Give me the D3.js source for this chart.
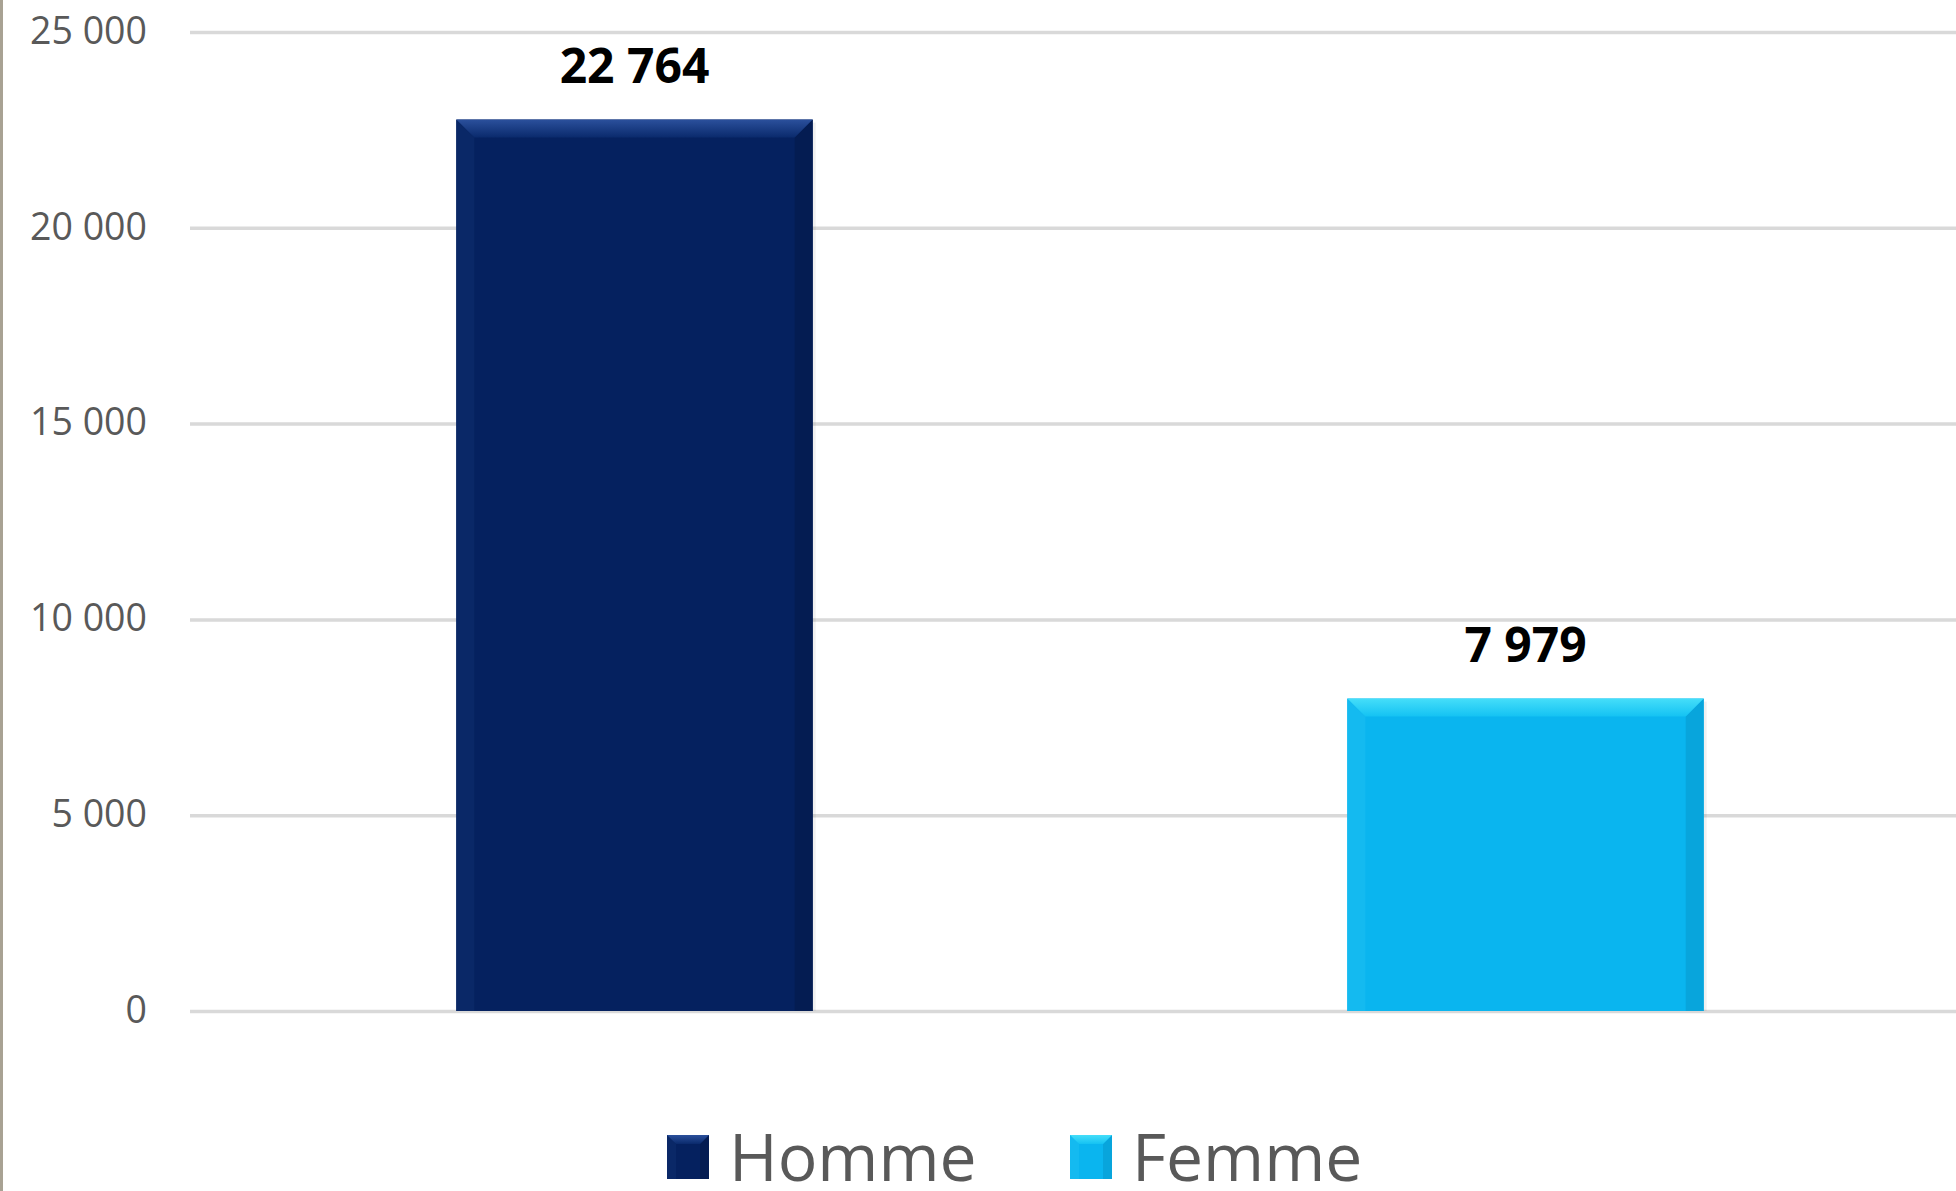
<!DOCTYPE html>
<html>
<head>
<meta charset="utf-8">
<script src="https://cdn.jsdelivr.net/npm/d3@7"></script>
<style>
  html, body { margin: 0; padding: 0; background: #fff; }
  svg { display: block; }
</style>
</head>
<body>
<div id="chart"></div>
<script>
const categories = ["Homme", "Femme"];
const values = [22764, 7979];
const yTicks = [0, 5000, 10000, 15000, 20000, 25000];
const legendLabels = ["Homme", "Femme"];

const colors = {
  Homme: {base: "#05215f", top: "#2b509c", topEnd: "#0a2a6c", left: "#0a2867", right: "#041c52"},
  Femme: {base: "#0ab5ef", top: "#45def9", topEnd: "#14c2f3", left: "#14baf0", right: "#08a5dc"}
};

let width = 1956;
let height = 1191;
let margin = ({top: 32, right: 0, bottom: 180, left: 190});

const fr = d3.formatLocale({decimal: ",", thousands: " ", grouping: [3], currency: ["", " €"]});
const fmt = fr.format(",d");

let x = d3.scaleBand()
    .domain(categories)
    .range([189, 1971])
    .paddingInner(0.6)
    .paddingOuter(0.3);

let y = d3.scaleLinear()
    .domain([0, 25000])
    .range([height - margin.bottom, margin.top]);

const svg = d3.select("#chart").append("svg")
    .attr("width", width)
    .attr("height", height)
    .attr("viewBox", [0, 0, width, height]);

// left border strip of the original screenshot
svg.append("rect").attr("x", 0).attr("y", 0).attr("width", 3).attr("height", height).attr("fill", "#a8a293");

const defs = svg.append("defs");
categories.forEach(c => {
  const g = defs.append("linearGradient").attr("id", "top-" + c)
      .attr("x1", 0).attr("y1", 0).attr("x2", 0).attr("y2", 1);
  g.append("stop").attr("offset", "0%").attr("stop-color", colors[c].top);
  g.append("stop").attr("offset", "100%").attr("stop-color", colors[c].topEnd);
});

// y axis with gridlines
svg.append("g")
    .attr("class", "y-axis")
    .attr("transform", `translate(${margin.left},0)`)
    .call(d3.axisLeft(y).tickValues(yTicks).tickFormat(fmt)
        .tickSize(-(width - margin.left)).tickPadding(43))
    .call(g => g.select(".domain").remove())
    .call(g => g.selectAll(".tick line").attr("stroke", "#d9d9d9").attr("stroke-width", 3.5))
    .call(g => g.selectAll(".tick text")
        .attr("fill", "#595959")
        .attr("font-family", "'Open Sans', sans-serif")
        .attr("font-size", 37.5)
        .attr("dy", "0.3em"));

const data = categories.map((c, i) => ({cat: c, value: values[i]}));

function bevel(g, x0, y0, x1, y1, b, col, topId) {
  g.append("rect").attr("x", x0).attr("y", y0).attr("width", x1 - x0).attr("height", y1 - y0).attr("fill", col.base);
  g.append("polygon")
      .attr("points", [[x0, y0], [x0 + b, y0 + b], [x0 + b, y1], [x0, y1]].join(" "))
      .attr("fill", col.left);
  g.append("polygon")
      .attr("points", [[x1, y0], [x1 - b, y0 + b], [x1 - b, y1], [x1, y1]].join(" "))
      .attr("fill", col.right);
  g.append("polygon")
      .attr("points", [[x0, y0], [x1, y0], [x1 - b, y0 + b], [x0 + b, y0 + b]].join(" "))
      .attr("fill", `url(#${topId})`);
}

const bars = svg.append("g").attr("class", "bars");
data.forEach(d => {
  const g = bars.append("g");
  const x0 = x(d.cat), x1 = x(d.cat) + x.bandwidth();
  // soft shadow
  g.append("rect").attr("x", x0 + 3).attr("y", y(d.value) + 3).attr("width", x.bandwidth())
      .attr("height", y(0) - y(d.value) - 3).attr("fill", "#000").attr("opacity", 0.06);
  bevel(g, x0, y(d.value), x1, y(0), 18, colors[d.cat], "top-" + d.cat);
});

svg.append("g")
    .attr("class", "labels")
  .selectAll("text")
  .data(data)
  .join("text")
    .attr("x", d => x(d.cat) + x.bandwidth() / 2)
    .attr("y", d => y(d.value) - 37)
    .attr("text-anchor", "middle")
    .attr("font-family", "'Open Sans', sans-serif")
    .attr("font-weight", 700)
    .attr("font-size", 48)
    .attr("fill", "#000")
    .text(d => fmt(d.value));

// legend
const legendX = [667, 1070];
const legend = svg.append("g").attr("class", "legend");
legendLabels.forEach((name, i) => {
  const g = legend.append("g").attr("transform", `translate(${legendX[i]},1135)`);
  bevel(g, 0, 0, 42, 44, 9, colors[name], "top-" + name);
  g.append("text")
      .attr("x", 62)
      .attr("y", 46)
      .attr("font-family", "'Open Sans', sans-serif")
      .attr("font-size", 66)
      .attr("fill", "#595959")
      .text(name);
});
</script>
</body>
</html>
